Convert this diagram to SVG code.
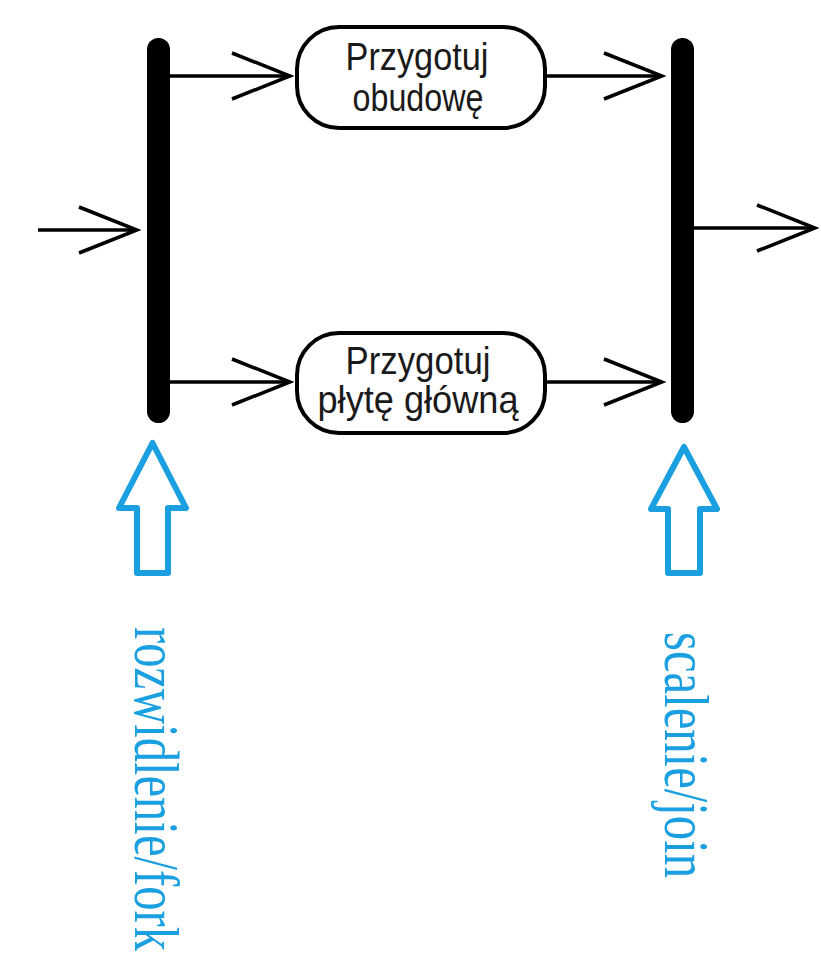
<svg xmlns="http://www.w3.org/2000/svg" width="821" height="962" viewBox="0 0 821 962">
<defs>
<style>
.bar{fill:#000}
.node rect{fill:#fff;stroke:#000;stroke-width:4}
.node text{font-family:"Liberation Sans","DejaVu Sans",sans-serif;font-size:39px;fill:#1a1a1a;text-anchor:middle}
.conn{stroke:#000;stroke-width:3.5;fill:none;marker-end:url(#open)}
.hollow{fill:#fff;stroke:#1a9fe0;stroke-width:6;stroke-linejoin:round}
.lbl{font-family:"Liberation Serif","Times New Roman",serif;font-size:64px;fill:#1a9fe0}
</style>
<marker id="open" markerUnits="userSpaceOnUse" markerWidth="64" markerHeight="52" refX="60" refY="25" orient="auto">
<path d="M2,2 L60,25 L2,48" fill="none" stroke="#000" stroke-width="3.5"/>
</marker>
</defs>
<rect width="821" height="962" fill="#fff"/>
<g id="fork"><rect class="bar" x="147" y="38" width="23" height="385" rx="11.5"/></g>
<g id="join"><rect class="bar" x="671" y="38" width="23" height="385" rx="11.5"/></g>
<g id="node-obudowa" class="node">
<rect x="297" y="27" width="248" height="101" rx="42"/>
<text x="417" y="70" textLength="143" lengthAdjust="spacingAndGlyphs">Przygotuj</text>
<text x="418" y="111" textLength="131" lengthAdjust="spacingAndGlyphs">obudowę</text>
</g>
<g id="node-plyta" class="node">
<rect x="297" y="333" width="248" height="100" rx="42"/>
<text x="418" y="374" textLength="145" lengthAdjust="spacingAndGlyphs">Przygotuj</text>
<text x="418" y="413" textLength="201" lengthAdjust="spacingAndGlyphs">płytę główną</text>
</g>
<g id="connectors">
<path class="conn" d="M38,230 L137,230"/>
<path class="conn" d="M170,76 L290,76"/>
<path class="conn" d="M170,382 L290,382"/>
<path class="conn" d="M545,76 L662,76"/>
<path class="conn" d="M545,382 L662,382"/>
<path class="conn" d="M694,228 L815,228"/>
</g>
<g id="fork-label">
<path class="hollow" d="M152.5,443 L186,508 L168,508 L168,573 L137,573 L137,508 L119,508 Z"/>
<text class="lbl" transform="translate(135,627) rotate(90)" textLength="324" lengthAdjust="spacingAndGlyphs">rozwidlenie/fork</text>
</g>
<g id="join-label">
<path class="hollow" d="M684,447 L717,509 L700,509 L700,573 L668,573 L668,509 L651,509 Z"/>
<text class="lbl" transform="translate(665,632) rotate(90)" textLength="246" lengthAdjust="spacingAndGlyphs">scalenie/join</text>
</g>
</svg>
